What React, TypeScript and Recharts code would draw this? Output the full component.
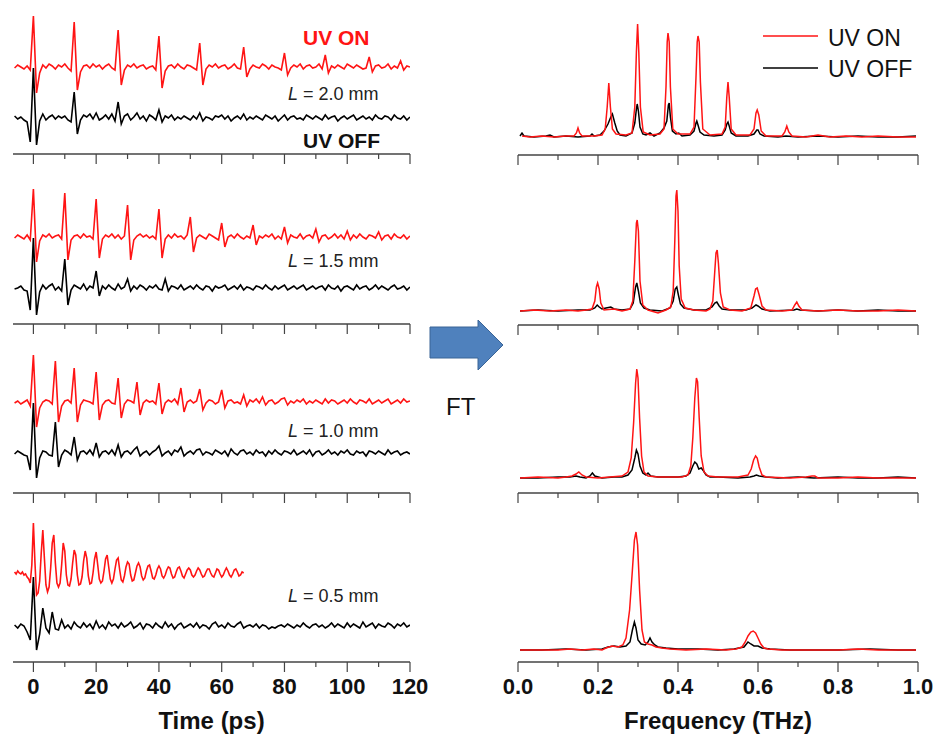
import React from 'react';
import { LineChart, Line, XAxis, YAxis, Legend } from 'recharts';

// ---------- time grid / ticks ----------
const TIME_START = -6;
const TIME_STEP = 1;
const TIME_STEP_FINE = 0.5;
const TIME_TICKS = [0, 10, 20, 30, 40, 50, 60, 70, 80, 90, 100, 110, 120];
const FREQ_TICKS = [0, 0.1, 0.2, 0.3, 0.4, 0.5, 0.6, 0.7, 0.8, 0.9, 1.0];
const LENGTH_LABELS = ['2.0', '1.5', '1.0', '0.5'];
const SERIES_NAMES = ['UV ON', 'UV OFF'];

// ---------- time-domain traces (a.u.), t = -6 .. 120 ps ----------
const P1_ON = [
  -1, 2, 0, -2, 1, -3,
  51, -26, -6, 2, -1, 3, 1, -2, 2, 0,
  3, -1, -4, 45, -23, -5, 1, 2, -1, 3,
  0, 2, -2, 1, 3, -1, -3, 37, -18, -3,
  2, 0, 3, -1, 1, 2, -2, 0, 1, -3,
  31, -21, -4, 1, 2, -1, 3, 0, -2, 2,
  1, -1, -3, 24, -18, -2, 2, 0, 3, -1,
  1, 2, -2, 0, 3, -1, -2, 20, -10, -2,
  2, 0, -1, 3, 1, -2, 2, 0, -1, -3,
  14, -8, -1, 2, 0, 3, -2, 1, 2, -1,
  0, 3, -2, 12, -6, 1, -1, 2, 0, -2,
  3, 1, -1, 2, 0, -2, -1, 10, -5, 1,
  2, -1, 0, 3, -2, 1, -1, 6, -3, 1,
  0,
];
const P1_OFF = [
  2, -1, 1, -2, -4, -24,
  50, -27, -3, 4, -2, 1, 3, -1, 2, 0,
  2, -2, -4, 26, -16, -2, 3, 1, 4, -1,
  5, -2, 0, 3, -1, 4, -3, 16, -6, 2,
  4, -2, 1, 5, -1, 2, -3, 3, 1, -2,
  8, -4, 2, 0, 3, -2, 1, -1, 2, 0,
  -2, 2, -1, 5, -3, 1, 0, -2, 2, 1,
  3, -1, 2, -3, 0, 2, -1, 4, -2, 1,
  -1, 2, 0, -2, 3, 1, -1, 2, -3, 0,
  3, -2, 1, 2, -1, 0, -2, 3, 1, -1,
  2, 0, -2, 3, -1, 1, 2, -3, 0, 2,
  -1, 1, 3, -2, 0, 2, -1, 1, -2, 3,
  0, -1, 2, 1, -2, 3, 0, -1, 2, -2,
  1,
];
const P2_ON = [
  -1, 2, 0, -2, 2, -3,
  48, -25, -4, 2, 0, 3, -1, 1, 2, -2,
  44, -23, -3, 1, 2, -1, 3, 0, 1, -2,
  38, -21, -2, 2, 0, 3, -1, 2, -2, 1,
  32, -23, -3, 1, 3, 0, 2, -1, 1, -2,
  28, -21, -2, 2, -1, 3, 0, 1, -2, 2,
  20, -15, -1, 2, 0, -2, 3, 1, -1, -3,
  14, -10, 0, 2, -1, 3, 0, -2, 1, -1,
  12, -8, 1, -1, 2, 0, 3, -2, 1, -2,
  10, -6, 2, 0, -1, 3, -2, 1, 2, -1,
  8, -5, 1, 2, -2, 0, 3, -1, 2, -2,
  6, -3, 2, -1, 3, 0, -2, 2, 1, -1,
  5, -3, 1, 2, -2, 3, 0, -1, 2, -2,
  1,
];
const P2_OFF = [
  -1, 0, 2, -2, -3, -22,
  50, -27, -4, 3, -1, 2, 4, -2, 1, -3,
  29, -17, -2, 3, 1, -1, 4, -2, 2, 0,
  17, -8, 2, -1, 3, 0, -2, 4, -1, 1,
  9, -3, 2, -1, 3, 1, -2, 2, 0, 3,
  -1, -2, 9, -3, 2, 1, -1, 3, -2, 0,
  2, -1, 3, 0, -2, 2, 1, -3, 2, 0,
  1, 3, -2, 0, 2, -1, 3, -2, 1, 0,
  -2, 2, 1, -1, 3, 0, -2, 2, -1, 1,
  3, -2, 0, 2, -1, 1, 3, -2, 0, 2,
  -1, 1, 2, -2, 3, 0, -1, 2, -3, 1,
  2, 0, -2, 3, -1, 1, 2, -2, 0, 3,
  -1, 2, 0, -2, 1, 3, -1, 0, 2, -2,
  1,
];
const P3_ON = [
  -1, 1, -2, 0, 2, -4,
  47, -25, -6, 0, 2, 1, -2, 41, -20, -4,
  1, 2, -1, 34, -20, -3, 2, 1, 0, -2,
  30, -18, -3, 1, 2, -1, -2, 24, -16, -2,
  2, 1, -1, 20, -13, -1, 2, 0, 1, -2,
  19, -12, -1, 2, 0, 3, -2, 14, -10, 0,
  2, -1, 1, 13, -8, -1, 2, 1, -2, 0,
  12, -6, 1, 2, -1, 0, -2, 7, -4, 2,
  0, 3, -1, 5, -3, 1, 2, -2, 0, 3,
  4, -3, 1, -1, 2, 0, 3, -2, 1, -1,
  2, 0, -2, 3, -1, 2, 1, -2, 0, 2,
  -1, 3, 0, -2, 2, 1, -1, 3, -2, 0,
  2, -1, 1, 3, -2, 0, 2, -1, 3, 0,
  1,
];
const P3_OFF = [
  -1, 2, 0, -2, -3, -17,
  50, -25, -5, 2, 1, -2, -3, 31, -14, -2,
  3, 1, -2, 16, -7, 1, 2, -1, 3, -2,
  10, -4, 1, 2, -1, 3, -2, 8, -4, 1,
  2, -1, 3, 6, -3, 0, 2, -2, 1, 3,
  7, -3, 0, 2, -2, 3, 1, 6, -3, 0,
  2, -1, 3, 4, -2, 1, 0, -2, 3, 1,
  -1, 2, -3, 4, 0, -2, 2, 3, -1, 1,
  -2, 3, 0, 1, -3, 2, -1, 3, 0, -2,
  2, 1, -1, 3, -2, 0, 2, -1, 3, -3,
  1, 2, -2, 0, 3, -1, 1, -2, 2, 0,
  3, -1, -2, 2, 0, 1, -3, 2, 1, -1,
  2, 0, -2, 3, -1, 1, 2, -2, 0, 1,
  -1,
];
// L = 0.5 mm, UV ON: sampled every 0.5 ps, t = -6 .. 67 ps
const P4_ON = [
  1, -1, 2, 0, -1, 1, -2, -1, -4, -6, -10, 8,
  50, 10, -22, -20, -8, 20, 43, 15, -12, -19, -14, 5,
  30, 38, 10, -10, -14, -10, 8, 30, 22, -2, -12, -13,
  -6, 10, 23, 18, -2, -12, -11, -4, 12, 22, 15, -3,
  -11, -10, 0, 14, 21, 8, -6, -10, -8, 2, 14, 18,
  6, -6, -10, -6, 4, 13, 15, 3, -7, -9, -3, 6,
  11, 9, -2, -8, -7, 0, 7, 10, 6, -3, -7, -5,
  2, 7, 8, 2, -5, -6, -2, 4, 7, 4, -3, -5,
  -2, 3, 6, 5, -1, -5, -4, 1, 5, 6, 2, -3,
  -5, -1, 3, 5, 3, -2, -4, -2, 2, 5, 3, -1,
  -4, -3, 1, 4, 4, 0, -3, -4, 0, 4, 3, -1,
  -4, -2, 2, 5, 2, -2, -4, -1, 3, 4, 1, -3,
  -2, 1, 0,
];
const P4_OFF = [
  1, -2, 2, 0, -6, -14,
  49, -24, -8, 18, -2, -7, 14, -3, -4, 6,
  -2, 1, -3, 4, 0, -2, 3, -1, 2, -3,
  5, -2, 1, -3, 4, 0, 2, -2, 3, -1,
  1, 4, -2, 0, 3, -3, 2, 1, -2, 3,
  0, -2, 4, -1, 2, -3, 1, 3, -2, 0,
  2, -1, 3, -2, 1, 0, -3, 2, 4, -1,
  1, -2, 3, 0, -1, 2, 4, -2, 0, 1,
  -1, 2, -2, 1, 0, -3, -1, -2, 0, 1,
  -1, 2, 0, -2, 1, -1, 3, 0, -2, 1,
  2, -1, 1, -2, 0, 3, -1, 2, 0, -2,
  3, -1, 2, 0, -2, 4, -1, 1, 3, -2,
  2, 0, -1, 3, 1, -2, 2, 0, 3, -1,
  1,
];

// ---------- spectra [frequency THz, amplitude a.u.] ----------
const S1_ON: [number, number][] = [
  [0.01, 1], [0.03, 0], [0.06, 1], [0.09, 0], [0.12, 1], [0.14, 1], [0.146, 4], [0.15, 9], [0.154, 4], [0.16, 1],
  [0.19, 1], [0.21, 2], [0.218, 8], [0.223, 30], [0.227, 54], [0.231, 30], [0.236, 8], [0.245, 3], [0.27, 2],
  [0.285, 4], [0.292, 30], [0.296, 85], [0.299, 113], [0.302, 85], [0.306, 30], [0.313, 5], [0.33, 2], [0.355, 3],
  [0.365, 8], [0.37, 50], [0.373, 95], [0.375, 104], [0.378, 95], [0.381, 50], [0.387, 8], [0.4, 3], [0.43, 3],
  [0.44, 10], [0.445, 60], [0.448, 95], [0.45, 101], [0.453, 95], [0.456, 55], [0.462, 8], [0.48, 2], [0.51, 3],
  [0.518, 10], [0.522, 40], [0.525, 55], [0.528, 40], [0.533, 8], [0.545, 2], [0.58, 2], [0.59, 8], [0.595, 24],
  [0.598, 27], [0.602, 22], [0.608, 6], [0.62, 1], [0.66, 1], [0.667, 5], [0.672, 11], [0.677, 5], [0.685, 1],
  [0.72, 0], [0.75, 2], [0.78, 0], [0.82, 1], [0.86, 0], [0.9, 1], [0.95, 0], [0.995, 0],
];
const S1_OFF: [number, number][] = [
  [0.005, 1], [0.01, 4], [0.015, 1], [0.04, 0], [0.07, 1], [0.08, 2], [0.09, 0], [0.12, 1], [0.15, 0], [0.18, 1],
  [0.185, 3], [0.19, 1], [0.205, 2], [0.215, 6], [0.225, 13], [0.232, 20], [0.236, 23], [0.242, 14], [0.248, 6],
  [0.255, 2], [0.27, 1], [0.285, 4], [0.292, 14], [0.296, 28], [0.298, 33], [0.301, 26], [0.305, 10], [0.312, 3],
  [0.32, 2], [0.33, 4], [0.34, 1], [0.355, 4], [0.365, 9], [0.372, 16], [0.376, 32], [0.378, 34], [0.381, 20],
  [0.386, 6], [0.395, 3], [0.402, 4], [0.41, 1], [0.43, 2], [0.44, 6], [0.445, 14], [0.447, 16], [0.45, 12],
  [0.455, 5], [0.465, 2], [0.49, 1], [0.51, 2], [0.518, 7], [0.522, 13], [0.525, 15], [0.528, 11], [0.533, 4],
  [0.545, 1], [0.575, 1], [0.59, 3], [0.597, 7], [0.6, 7], [0.605, 3], [0.615, 1], [0.65, 0], [0.67, 1], [0.7, 0],
  [0.75, 1], [0.8, 0], [0.85, 1], [0.9, 0], [0.95, 0], [0.995, 1],
];
const S2_ON: [number, number][] = [
  [0.005, 0], [0.04, 1], [0.08, 0], [0.12, 1], [0.15, 0], [0.17, 1], [0.185, 2], [0.192, 10], [0.196, 24],
  [0.199, 28], [0.203, 22], [0.207, 8], [0.215, 1], [0.24, 2], [0.26, 0], [0.28, 2], [0.287, 10], [0.292, 50],
  [0.296, 88], [0.298, 91], [0.301, 80], [0.305, 30], [0.312, 6], [0.325, 1], [0.35, -2], [0.37, 1], [0.382, 4],
  [0.388, 20], [0.392, 70], [0.395, 115], [0.397, 121], [0.4, 100], [0.403, 45], [0.408, 12], [0.418, 3],
  [0.44, 1], [0.47, 0], [0.48, 2], [0.487, 10], [0.492, 40], [0.495, 58], [0.498, 61], [0.501, 48], [0.506, 18],
  [0.513, 4], [0.53, 1], [0.56, 0], [0.582, 3], [0.59, 15], [0.594, 22], [0.598, 23], [0.603, 16], [0.61, 5],
  [0.62, 1], [0.66, 0], [0.685, 1], [0.692, 6], [0.697, 9], [0.702, 5], [0.71, 1], [0.75, 0], [0.8, 1],
  [0.85, 0], [0.9, 0], [0.95, 1], [0.995, 0],
];
const S2_OFF: [number, number][] = [
  [0.005, 0], [0.05, 1], [0.1, 0], [0.15, 1], [0.18, 1], [0.192, 3], [0.198, 6], [0.203, 4], [0.21, 2], [0.22, 3],
  [0.232, 4], [0.24, 2], [0.26, 1], [0.28, 2], [0.288, 8], [0.294, 24], [0.297, 28], [0.301, 20], [0.306, 8],
  [0.315, 3], [0.33, 1], [0.36, 0], [0.38, 3], [0.388, 10], [0.393, 22], [0.397, 24], [0.401, 16], [0.406, 7],
  [0.415, 3], [0.44, 1], [0.47, 1], [0.485, 4], [0.492, 8], [0.497, 9], [0.503, 5], [0.51, 2], [0.53, 1],
  [0.57, 1], [0.585, 3], [0.595, 6], [0.6, 5], [0.61, 2], [0.63, 0], [0.69, 1], [0.697, 2], [0.705, 1],
  [0.75, 0], [0.8, 1], [0.85, 0], [0.9, 1], [0.95, 0], [0.995, 0],
];
const S3_ON: [number, number][] = [
  [0.005, 0], [0.05, 1], [0.1, 0], [0.12, 1], [0.135, 2], [0.145, 4], [0.152, 6], [0.16, 3], [0.17, 1], [0.2, 0],
  [0.23, 1], [0.26, 2], [0.275, 6], [0.283, 20], [0.289, 55], [0.294, 95], [0.297, 109], [0.3, 100], [0.304, 60],
  [0.309, 22], [0.315, 6], [0.325, 2], [0.35, 1], [0.38, 1], [0.41, 1], [0.425, 3], [0.432, 12], [0.437, 40],
  [0.442, 80], [0.446, 100], [0.449, 96], [0.453, 60], [0.458, 22], [0.465, 6], [0.475, 2], [0.5, 1], [0.55, 1],
  [0.575, 3], [0.583, 9], [0.589, 18], [0.594, 22], [0.598, 20], [0.603, 11], [0.61, 3], [0.62, 1], [0.68, 0],
  [0.72, 1], [0.735, 2], [0.742, 2], [0.75, 0], [0.8, 0], [0.85, 1], [0.9, 0], [0.95, 0], [0.995, 0],
];
const S3_OFF: [number, number][] = [
  [0.005, 0], [0.05, 0], [0.1, 1], [0.13, 1], [0.145, 2], [0.155, 1], [0.17, 0], [0.18, 2], [0.186, 5], [0.192, 2],
  [0.21, 0], [0.24, 1], [0.26, 1], [0.275, 3], [0.285, 8], [0.292, 20], [0.296, 28], [0.3, 24], [0.305, 12],
  [0.312, 5], [0.32, 3], [0.325, 5], [0.332, 2], [0.35, 1], [0.37, 1], [0.4, 1], [0.42, 2], [0.43, 5], [0.437, 12],
  [0.442, 16], [0.447, 14], [0.452, 9], [0.458, 10], [0.464, 7], [0.47, 3], [0.48, 1], [0.5, 1], [0.55, 0],
  [0.58, 1], [0.59, 2], [0.596, 3], [0.603, 2], [0.62, 1], [0.65, 0], [0.7, 1], [0.74, 0], [0.8, 1], [0.85, 0],
  [0.9, 0], [0.95, 1], [0.995, 0],
];
const S4_ON: [number, number][] = [
  [0.005, 0], [0.05, 0], [0.1, 0], [0.13, 1], [0.16, 0], [0.19, 1], [0.21, 0], [0.22, 2], [0.235, 4], [0.25, 3],
  [0.262, 5], [0.27, 12], [0.279, 40], [0.286, 80], [0.291, 110], [0.295, 118], [0.299, 105], [0.304, 60],
  [0.31, 20], [0.316, 8], [0.325, 6], [0.335, 5], [0.345, 3], [0.36, 2], [0.38, 1], [0.42, 0], [0.47, 1],
  [0.52, 0], [0.545, 1], [0.56, 3], [0.568, 8], [0.575, 14], [0.582, 18], [0.588, 19], [0.594, 17], [0.6, 12],
  [0.607, 6], [0.615, 2], [0.625, 1], [0.66, 0], [0.7, 0], [0.75, 0], [0.8, 0], [0.85, 1], [0.9, 0], [0.95, 0],
  [0.995, 0],
];
const S4_OFF: [number, number][] = [
  [0.005, 0], [0.06, 0], [0.12, 1], [0.17, 0], [0.21, 1], [0.225, 3], [0.24, 4], [0.255, 3], [0.27, 4], [0.28, 8],
  [0.286, 20], [0.291, 28], [0.295, 22], [0.3, 10], [0.308, 6], [0.318, 5], [0.325, 8], [0.33, 12], [0.335, 8],
  [0.342, 5], [0.35, 3], [0.37, 2], [0.4, 1], [0.45, 1], [0.5, 0], [0.54, 1], [0.565, 3], [0.575, 8], [0.582, 6],
  [0.59, 4], [0.6, 4], [0.61, 2], [0.63, 1], [0.68, 0], [0.75, 0], [0.8, 0], [0.88, 1], [0.95, 0], [0.995, 0],
];

// ---------- styling / layout ----------
const FONT = '"Liberation Sans", Arial, Helvetica, sans-serif';
const RED = '#ff1414';
const BLACK = '#000000';
const AXIS = '#444444';
const PLOT_H = 150;

const LEFT_PANELS = [
  { on: P1_ON, onStep: TIME_STEP, off: P1_OFF, offOn: 87, offOff: 36, top: 4 },
  { on: P2_ON, onStep: TIME_STEP, off: P2_OFF, offOn: 87, offOff: 36, top: 174 },
  { on: P3_ON, onStep: TIME_STEP, off: P3_OFF, offOn: 91, offOff: 40, top: 343 },
  { on: P4_ON, onStep: TIME_STEP_FINE, off: P4_OFF, offOn: 89, offOff: 36, top: 512 },
];
const RIGHT_PANELS = [
  { on: S1_ON, off: S1_OFF, base: 18, top: 5 },
  { on: S2_ON, off: S2_OFF, base: 14, top: 175 },
  { on: S3_ON, off: S3_OFF, base: 15, top: 343 },
  { on: S4_ON, off: S4_OFF, base: 12, top: 512 },
];
const L_LABEL_Y = [100, 267, 437, 602];

function makeTick(isMajor: (v: number) => boolean, label: ((v: number) => string) | null) {
  return (props: any) => {
    const { x, y, payload } = props;
    const v = payload.value as number;
    const major = isMajor(v);
    return (
      <g>
        <line x1={x} x2={x} y1={y} y2={y + (major ? 10 : 5)} stroke={AXIS} strokeWidth={1.2} />
        {label && major ? (
          <text x={x} y={y + 32} textAnchor="middle" fontSize={22} fontWeight="bold" fill="#111" fontFamily={FONT}>
            {label(v)}
          </text>
        ) : null}
      </g>
    );
  };
}

const timeMajor = (v: number) => Math.round(v) % 20 === 0;
const freqMajor = (v: number) => Math.round(v * 10) % 2 === 0;

function LegendBox(props: any) {
  const items = [...(props.payload || [])].sort(
    (a: any, b: any) => SERIES_NAMES.indexOf(a.value) - SERIES_NAMES.indexOf(b.value)
  );
  return (
    <svg width={175} height={66}>
      {items.map((p: any, i: number) => (
        <g key={p.value}>
          <line x1={3} x2={58} y1={16 + 32 * i} y2={16 + 32 * i} stroke={p.color} strokeWidth={1.6} />
          <text x={68} y={26 + 31 * i} fontSize={23} fill="#111" fontFamily={FONT}>
            {p.value}
          </text>
        </g>
      ))}
    </svg>
  );
}

function TimePanel({ cfg, last }: { cfg: any; last: boolean }) {
  const onData = cfg.on.map((v: number, i: number) => ({ x: TIME_START + i * cfg.onStep, y: v + cfg.offOn }));
  const offData = cfg.off.map((v: number, i: number) => ({ x: TIME_START + i * TIME_STEP, y: v + cfg.offOff }));
  const axisH = last ? 45 : 14;
  return (
    <div style={{ position: 'absolute', left: 0, top: cfg.top }}>
      <LineChart width={440} height={PLOT_H + axisH} margin={{ top: 0, right: 30, bottom: 0, left: 13 }}>
        <XAxis
          type="number"
          dataKey="x"
          domain={[-6.5, 120]}
          allowDataOverflow
          ticks={TIME_TICKS}
          interval={0}
          tickSize={0}
          tickMargin={0}
          tickLine={false}
          axisLine={{ stroke: AXIS, strokeWidth: 1.5 }}
          height={axisH}
          tick={makeTick(timeMajor, last ? (v) => String(v) : null)}
        />
        <YAxis hide type="number" domain={[0, PLOT_H]} allowDataOverflow />
        <Line data={onData} dataKey="y" name="UV ON" type="linear" stroke={RED} strokeWidth={1.6} dot={false} isAnimationActive={false} />
        <Line data={offData} dataKey="y" name="UV OFF" type="linear" stroke={BLACK} strokeWidth={1.6} dot={false} isAnimationActive={false} />
      </LineChart>
    </div>
  );
}

function SpecPanel({ cfg, last, first }: { cfg: any; last: boolean; first: boolean }) {
  const onData = cfg.on.map(([f, v]: [number, number]) => ({ x: f, y: v + cfg.base }));
  const offData = cfg.off.map(([f, v]: [number, number]) => ({ x: f, y: v + cfg.base }));
  const axisH = last ? 45 : 14;
  return (
    <div style={{ position: 'absolute', left: 500, top: cfg.top }}>
      <LineChart width={436} height={PLOT_H + axisH} margin={{ top: 0, right: 18, bottom: 0, left: 18 }}>
        <XAxis
          type="number"
          dataKey="x"
          domain={[0, 1]}
          allowDataOverflow
          ticks={FREQ_TICKS}
          interval={0}
          tickSize={0}
          tickMargin={0}
          tickLine={false}
          axisLine={{ stroke: AXIS, strokeWidth: 1.5 }}
          height={axisH}
          tick={makeTick(freqMajor, last ? (v) => v.toFixed(1) : null)}
        />
        <YAxis hide type="number" domain={[0, PLOT_H]} allowDataOverflow />
        <Line data={offData} dataKey="y" name="UV OFF" type="linear" stroke={BLACK} strokeWidth={1.5} dot={false} isAnimationActive={false} />
        <Line data={onData} dataKey="y" name="UV ON" type="linear" stroke={RED} strokeWidth={1.5} dot={false} isAnimationActive={false} />
        {first ? (
          <Legend
            layout="horizontal"
            verticalAlign="middle"
            align="center"
            content={<LegendBox />}
            wrapperStyle={{ position: 'absolute', left: 260, top: 15, width: 175, height: 66 }}
          />
        ) : null}
      </LineChart>
    </div>
  );
}

export default function App() {
  return (
    <div style={{ position: 'absolute', left: 0, top: 0, width: 936, height: 736, background: '#fff', overflow: 'hidden' }}>
      {LEFT_PANELS.map((cfg, i) => (
        <TimePanel key={'t' + i} cfg={cfg} last={i === LEFT_PANELS.length - 1} />
      ))}
      {RIGHT_PANELS.map((cfg, i) => (
        <SpecPanel key={'s' + i} cfg={cfg} last={i === RIGHT_PANELS.length - 1} first={i === 0} />
      ))}
      <svg width={936} height={736} style={{ position: 'absolute', left: 0, top: 0, pointerEvents: 'none' }}>
        <text x={303} y={45} fill={RED} fontSize={21} fontWeight="bold" fontFamily={FONT}>UV ON</text>
        <text x={303} y={148} fill="#111" fontSize={21} fontWeight="bold" fontFamily={FONT}>UV OFF</text>
        {LENGTH_LABELS.map((l, i) => (
          <text key={l} x={288} y={L_LABEL_Y[i]} fontSize={18} fill="#222" fontFamily={FONT} style={{ whiteSpace: 'pre' }}>
            <tspan fontStyle="italic">L</tspan>
            <tspan>{' = ' + l + ' mm'}</tspan>
          </text>
        ))}
        <polygon
          points="430,327 478,327 478,320 503,345 478,370 478,358 430,358"
          fill="#4f81bd"
          stroke="#3a6496"
          strokeWidth={1}
        />
        <text x={446} y={415} fontSize={24} fill="#111" fontFamily={FONT}>FT</text>
        <text x={211.5} y={729} textAnchor="middle" fontSize={24} fontWeight="bold" fill="#111" fontFamily={FONT}>Time (ps)</text>
        <text x={718} y={729} textAnchor="middle" fontSize={24} fontWeight="bold" fill="#111" fontFamily={FONT}>Frequency (THz)</text>
      </svg>
    </div>
  );
}
